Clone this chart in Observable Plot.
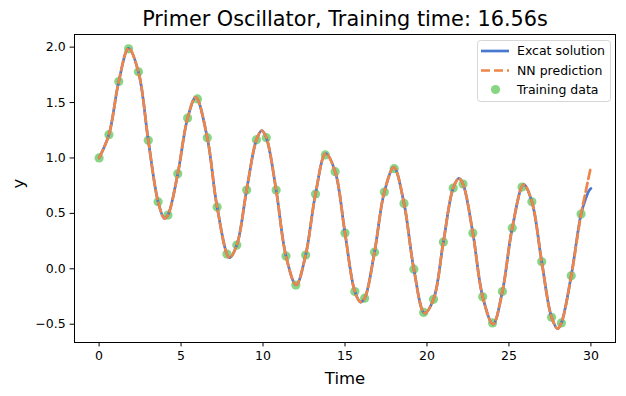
<!DOCTYPE html>
<html>
<head>
<meta charset="utf-8">
<script src="https://cdn.jsdelivr.net/npm/d3@7"></script>
<script src="https://cdn.jsdelivr.net/npm/@observablehq/plot@0.6"></script>
<style>
  html, body { margin: 0; padding: 0; background: white; }
</style>
</head>
<body>
<div id="chart"></div>
<script>
const titleText = "Primer Oscillator, Training time: 16.56s";
const xTicks = [0, 5, 10, 15, 20, 25, 30];
const yTicks = [-0.5, 0.0, 0.5, 1.0, 1.5, 2.0];

// Exact solution
const tExact = [0, 0.6, 1.2, 1.8, 2.4, 3.0, 3.6, 3.98, 4.2, 4.8, 5.4, 5.9, 6.6, 7.2, 7.95, 8.4, 9.0, 9.6, 9.92, 10.2, 10.8, 11.4, 12.02, 12.6, 13.2, 13.82, 14.4, 15.0, 15.6, 15.95, 16.2, 16.8, 17.4, 17.98, 18.6, 19.2, 19.85, 20.4, 21.0, 21.6, 21.95, 22.2, 22.8, 23.4, 24.03, 24.6, 25.2, 25.9, 26.4, 27.0, 27.6, 27.97, 28.2, 28.8, 29.4, 29.7, 29.88, 30.0];
const yExact = [1.00, 1.21, 1.69, 1.99, 1.777, 1.16, 0.605, 0.455, 0.485, 0.858, 1.36, 1.547, 1.183, 0.557, 0.10, 0.214, 0.711, 1.165, 1.247, 1.183, 0.711, 0.115, -0.145, 0.124, 0.675, 1.04, 0.876, 0.322, -0.205, -0.30, -0.265, 0.15, 0.693, 0.915, 0.59, -0.003, -0.40, -0.275, 0.241, 0.729, 0.815, 0.765, 0.322, -0.253, -0.50, -0.205, 0.367, 0.76, 0.605, 0.063, -0.437, -0.54, -0.488, -0.063, 0.494, 0.64, 0.705, 0.725];

// NN prediction (overlaps the exact solution, diverges at the end)
const tNN = [0, 0.6, 1.2, 1.8, 2.4, 3.0, 3.6, 3.98, 4.2, 4.8, 5.4, 5.9, 6.6, 7.2, 7.95, 8.4, 9.0, 9.6, 9.92, 10.2, 10.8, 11.4, 12.02, 12.6, 13.2, 13.82, 14.4, 15.0, 15.6, 15.95, 16.2, 16.8, 17.4, 17.98, 18.6, 19.2, 19.85, 20.4, 21.0, 21.6, 21.95, 22.2, 22.8, 23.4, 24.03, 24.6, 25.2, 25.9, 26.4, 27.0, 27.6, 27.97, 28.2, 28.8, 29.4, 29.7, 30.0];
const yNN = [1.00, 1.21, 1.69, 1.99, 1.777, 1.16, 0.605, 0.455, 0.485, 0.858, 1.36, 1.547, 1.183, 0.557, 0.10, 0.214, 0.711, 1.165, 1.247, 1.183, 0.711, 0.115, -0.145, 0.124, 0.675, 1.04, 0.876, 0.322, -0.205, -0.30, -0.265, 0.15, 0.693, 0.915, 0.59, -0.003, -0.40, -0.275, 0.241, 0.729, 0.815, 0.765, 0.322, -0.253, -0.50, -0.205, 0.367, 0.76, 0.605, 0.063, -0.437, -0.54, -0.488, -0.063, 0.494, 0.71, 0.92];

// Training data
const tTrain = [0, 0.6, 1.2, 1.8, 2.4, 3.0, 3.6, 4.2, 4.8, 5.4, 6.0, 6.6, 7.2, 7.8, 8.4, 9.0, 9.6, 10.2, 10.8, 11.4, 12.0, 12.6, 13.2, 13.8, 14.4, 15.0, 15.6, 16.2, 16.8, 17.4, 18.0, 18.6, 19.2, 19.8, 20.4, 21.0, 21.6, 22.2, 22.8, 23.4, 24.0, 24.6, 25.2, 25.8, 26.4, 27.0, 27.6, 28.2, 28.8, 29.4];
const yTrain = [1.00, 1.21, 1.69, 1.985, 1.777, 1.16, 0.605, 0.485, 0.858, 1.36, 1.533, 1.183, 0.557, 0.133, 0.214, 0.711, 1.165, 1.183, 0.711, 0.115, -0.147, 0.124, 0.675, 1.027, 0.876, 0.322, -0.205, -0.265, 0.15, 0.693, 0.903, 0.59, -0.003, -0.394, -0.275, 0.241, 0.729, 0.765, 0.322, -0.253, -0.488, -0.205, 0.367, 0.738, 0.605, 0.063, -0.437, -0.488, -0.063, 0.494];

const blue = "#4878d0", orange = "#ee854a", green = "#6acc64";
const font = "DejaVu Sans";
const fmt = d => d.toFixed(1).replace("-", "\u2212");

const exact = tExact.map((t, i) => ({t, y: yExact[i]}));
const nn = tNN.map((t, i) => ({t, y: yNN[i]}));
const train = tTrain.map((t, i) => ({t, y: yTrain[i]}));

const chart = Plot.plot({
  width: 626,
  height: 396,
  marginLeft: 74,
  marginRight: 11,
  marginTop: 34,
  marginBottom: 54,
  style: {fontFamily: font, fontSize: "12.5px", background: "white", color: "black"},
  x: {domain: [-1.5, 31.5]},
  y: {domain: [-0.665, 2.114]},
  marks: [
    Plot.dot(train, {x: "t", y: "y", r: 4.6, fill: green, fillOpacity: 0.8, stroke: "none"}),
    Plot.line(exact, {x: "t", y: "y", stroke: blue, strokeWidth: 2.7, curve: "catmull-rom"}),
    Plot.line(nn, {x: "t", y: "y", stroke: orange, strokeWidth: 2.7, strokeDasharray: "9,4", curve: "catmull-rom"}),
    Plot.frame({stroke: "black", strokeWidth: 1}),
    Plot.axisX({ticks: xTicks, tickSize: 4.4, tickPadding: 4.4, tickFormat: d => String(d), label: null, fontSize: 12.5}),
    Plot.axisY({ticks: yTicks, tickSize: 4.4, tickPadding: 4.4, tickFormat: fmt, label: null, fontSize: 12.5}),
    Plot.text([titleText], {text: d => d, frameAnchor: "top", dy: -15, fontSize: 20.8, lineAnchor: "middle"}),
    Plot.text(["Time"], {text: d => d, frameAnchor: "bottom", dy: 36, fontSize: 16.5, lineAnchor: "middle"}),
    Plot.text(["y"], {text: d => d, frameAnchor: "left", dx: -56, rotate: -90, fontSize: 16.5, lineAnchor: "middle"})
  ]
});

// Legend (drawn on the SVG, upper right like matplotlib)
const svg = d3.select(chart);
const lg = svg.append("g").attr("font-family", font).attr("font-size", "12.5px").attr("text-anchor", "start");
lg.append("rect").attr("x", 477.5).attr("y", 40.5).attr("width", 133).attr("height", 61)
  .attr("rx", 3).attr("fill", "white").attr("fill-opacity", 0.8).attr("stroke", "#d6d6d6");
const entries = [
  {label: "Excat solution", type: "line", color: blue, dash: null, y: 51},
  {label: "NN prediction", type: "line", color: orange, dash: "9,4", y: 70.5},
  {label: "Training data", type: "dot", color: green, y: 89.5}
];
entries.forEach(e => {
  if (e.type === "line") {
    const l = lg.append("line").attr("x1", 481).attr("x2", 509).attr("y1", e.y).attr("y2", e.y)
      .attr("stroke", e.color).attr("stroke-width", 2.7);
    if (e.dash) l.attr("stroke-dasharray", e.dash);
  } else {
    lg.append("circle").attr("cx", 495.5).attr("cy", e.y).attr("r", 4.6)
      .attr("fill", e.color).attr("fill-opacity", 0.8);
  }
  lg.append("text").attr("x", 517).attr("y", e.y).attr("dy", "0.35em")
    .attr("fill", "black").attr("text-anchor", "start").text(e.label);
});

document.getElementById("chart").appendChild(chart);
</script>
</body>
</html>
